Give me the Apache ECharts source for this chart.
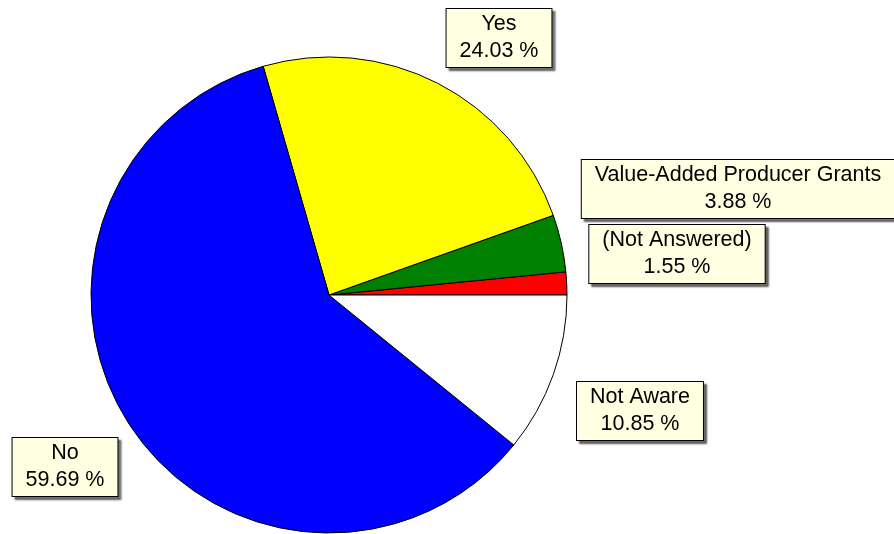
<!DOCTYPE html>
<html>
<head>
<meta charset="utf-8">
<style>
  html, body { margin: 0; padding: 0; background: #ffffff; }
  #chart { width: 894px; height: 534px; }
</style>
<script src="https://cdn.jsdelivr.net/npm/echarts@6/dist/echarts.min.js"></script>
</head>
<body>
<div id="chart"></div>
<script>
// Survey answers, percent of respondents (counter-clockwise from 3 o'clock)
const categories = ['(Not Answered)', 'Value-Added Producer Grants', 'Yes', 'No', 'Not Aware'];
const shares = [1.55, 3.88, 24.03, 59.69, 10.85];
const sliceColors = ['#ff0000', '#008000', '#ffff00', '#0000ff', '#ffffff'];

// Where each callout box is centred
const calloutCentres = [
  [677, 254],
  [738, 189],
  [499, 38],
  [65, 467],
  [640, 411]
];

const chart = echarts.init(document.getElementById('chart'), null, { renderer: 'canvas' });

chart.setOption({
  backgroundColor: '#ffffff',
  animation: false,
  series: [{
    type: 'pie',
    center: [329, 295],
    radius: 238,
    startAngle: 0,
    clockwise: false,
    avoidLabelOverlap: false,
    silent: true,
    data: categories.map((name, i) => ({
      name: name,
      value: shares[i],
      itemStyle: { color: sliceColors[i] }
    })),
    itemStyle: { borderColor: '#000000', borderWidth: 1 },
    label: {
      show: true,
      position: 'outside',
      formatter: p => p.name + '\n' + p.value.toFixed(2) + ' %',
      fontFamily: '"Liberation Sans", Arial, sans-serif',
      fontSize: 21.5,
      lineHeight: 27,
      color: '#000000',
      align: 'center',
      backgroundColor: '#ffffe1',
      borderColor: '#000000',
      borderWidth: 1,
      padding: [2, 13, 2, 13],
      shadowColor: 'rgba(0,0,0,0.55)',
      shadowBlur: 2,
      shadowOffsetX: 3,
      shadowOffsetY: 3
    },
    labelLine: { show: false },
    labelLayout: params => ({
      x: calloutCentres[params.dataIndex][0],
      y: calloutCentres[params.dataIndex][1],
      align: 'center',
      verticalAlign: 'middle',
      hideOverlap: false
    })
  }]
});
</script>
</body>
</html>
